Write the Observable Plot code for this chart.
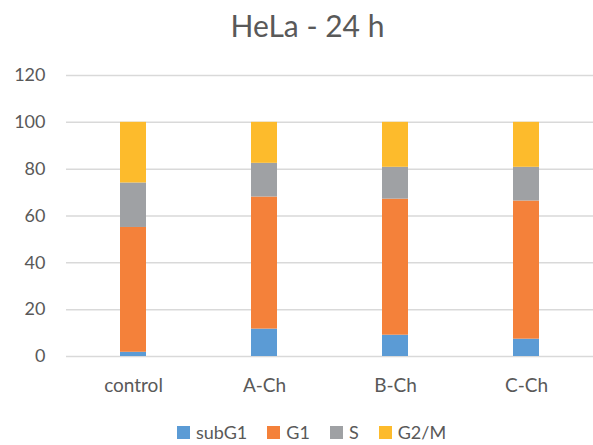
<!DOCTYPE html>
<html>
<head>
<meta charset="utf-8">
<script src="https://cdn.jsdelivr.net/npm/d3@7"></script>
<script src="https://cdn.jsdelivr.net/npm/@observablehq/plot@0.6"></script>
<style>
  html, body { margin: 0; padding: 0; background: #fff; }
  body { width: 593px; height: 445px; overflow: hidden; font-family: Lato, "Open Sans", sans-serif; color: #595959; }
  #title { height: 50px; line-height: 50px; text-align: center; font-size: 30px; padding-left: 22px; box-sizing: border-box; }
  #legend { display: flex; justify-content: center; gap: 20px; font-size: 18px; line-height: 20px; padding-left: 30px; margin-top: 17px; }
  #legend span { display: inline-flex; align-items: center; }
  #legend i { display: inline-block; width: 13px; height: 13px; margin-right: 6px; }
</style>
</head>
<body>
<div id="title">HeLa - 24 h</div>
<div id="chart"></div>
<div id="legend"></div>
<script>
const categories = ["control", "A-Ch", "B-Ch", "C-Ch"];
const seriesNames = ["subG1", "G1", "S", "G2/M"];
const subG1 = [1.8, 11.7, 9.1, 7.4];
const G1 = [53.3, 56.4, 58.1, 59.0];
const S = [19.0, 14.4, 13.6, 14.4];
const G2M = [25.9, 17.5, 19.2, 19.2];
const yTicks = [0, 20, 40, 60, 80, 100, 120];
const colors = ["#5B9BD5", "#F4813A", "#9FA1A4", "#FDBB2C"];

const seriesValues = [subG1, G1, S, G2M];
const data = [];
seriesNames.forEach((s, si) => {
  categories.forEach((c, ci) => data.push({category: c, series: s, value: seriesValues[si][ci]}));
});

const chart = Plot.plot({
  width: 593,
  height: 355,
  marginLeft: 66,
  marginRight: 0,
  marginTop: 25,
  marginBottom: 49,
  style: {fontFamily: "Lato, 'Open Sans', sans-serif", fontSize: "18px", color: "#595959", background: "#fff"},
  x: {domain: categories, paddingInner: 0.8, paddingOuter: 0.4, align: 0.5, label: null},
  y: {domain: [0, 120], ticks: yTicks, label: null},
  color: {domain: seriesNames, range: colors},
  marks: [
    Plot.gridY(yTicks, {stroke: "#d9d9d9", strokeOpacity: 1, strokeWidth: 1.5}),
    Plot.barY(data, {x: "category", y: "value", fill: "series", order: seriesNames}),
    Plot.axisX({tickSize: 0, tickPadding: 22, fontSize: 19}),
    Plot.axisY(yTicks, {tickSize: 0, tickPadding: 21, fontSize: 18})
  ]
});
document.getElementById("chart").appendChild(chart);

const legend = document.getElementById("legend");
seriesNames.forEach((s, i) => {
  const span = document.createElement("span");
  const sw = document.createElement("i");
  sw.style.background = colors[i];
  span.appendChild(sw);
  span.appendChild(document.createTextNode(s));
  legend.appendChild(span);
});
</script>
</body>
</html>
